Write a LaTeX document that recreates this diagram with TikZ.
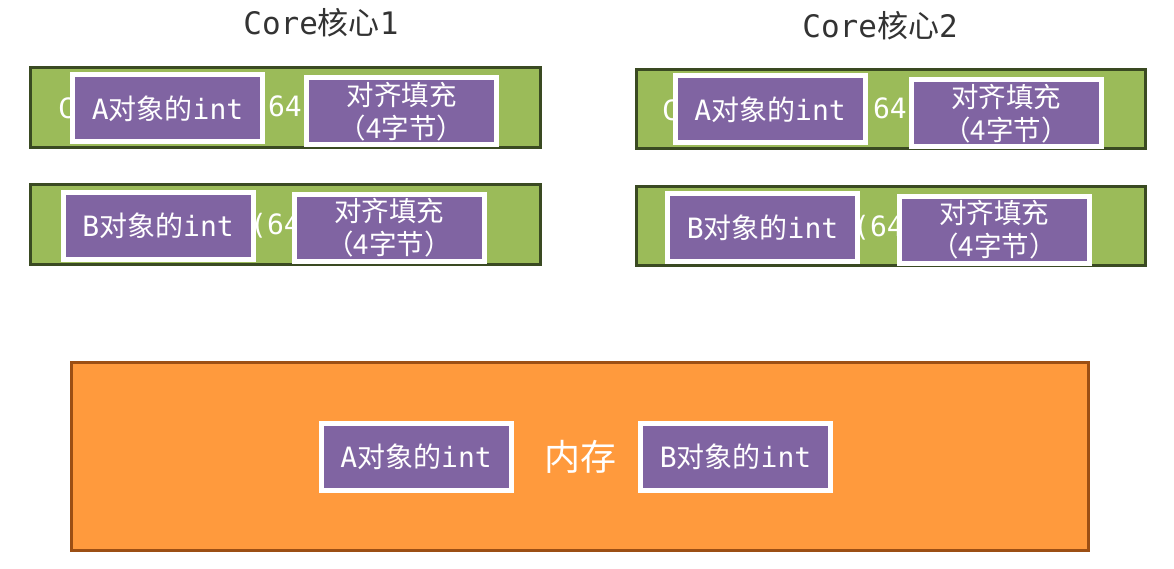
\documentclass[tikz,border=0pt]{standalone}
\usepackage{fontspec}
\setmainfont{Noto Sans CJK SC}
\setmonofont{DejaVu Sans Mono}
\usetikzlibrary{shadows}
\definecolor{barGreen}{HTML}{9BBB59}
\definecolor{barEdge}{HTML}{3A4A22}
\definecolor{memOrange}{HTML}{FF9A3D}
\definecolor{memEdge}{HTML}{9C4F14}
\definecolor{boxPurple}{HTML}{8064A2}
\definecolor{titleGrey}{HTML}{333333}
\tikzset{
  bar/.style={draw=barEdge, fill=barGreen, line width=3pt},
  mem/.style={draw=memEdge, fill=memOrange, line width=3pt},
  pbox/.style={draw=white, fill=boxPurple, line width=5pt, minimum width=190pt, minimum height=67pt,
    inner sep=0pt, text=white, font=\fontsize{28}{32}\selectfont, align=center,
    drop shadow={shadow xshift=1.5pt, shadow yshift=-2.5pt, opacity=0.3, fill=black}},
  ptwo/.style={pbox, font=\fontsize{27.5}{33}\selectfont},
  hidden/.style={text=white, font=\ttfamily\fontsize{28}{32}\selectfont, inner sep=0pt, anchor=west},
  title/.style={text=titleGrey, font=\fontsize{31}{34}\selectfont}
}
\newcommand{\lab}[1]{{\ttfamily #1}}
\begin{document}
\begin{tikzpicture}[x=1pt,y=-1pt]
\useasboundingbox (0,0) rectangle (1174,569);
% titles
\node[title] (t1) at (321,23) {\lab{Core}核心\lab{1}};
\node[title] (t2) at (880,26) {\lab{Core}核心\lab{2}};
% green bars
\draw[bar] (30,68) rectangle (540,148);
\draw[bar] (30,185) rectangle (540,264);
\draw[bar] (636,70) rectangle (1145,149);
\draw[bar] (636,187) rectangle (1145,265);
% partly covered white text
\node[hidden] (h1a) at (58,108) {C};
\node[hidden] (h1b) at (251,108) {(64};
\node[hidden] (h2a) at (64,226) {C};
\node[hidden] (h2b) at (250,226) {(64};
\node[hidden] (h3a) at (662,110) {C};
\node[hidden] (h3b) at (856,110) {(64};
\node[hidden] (h4a) at (668,228) {C};
\node[hidden] (h4b) at (853,228) {(64};
% purple boxes
\node[pbox] (a1) at (167.5,108.5) {\lab{A}对象的\lab{int}};
\node[ptwo] (p1) at (401.5,111.5) {对齐填充\\（4字节）};
\node[pbox] (b1) at (158,226) {\lab{B}对象的\lab{int}};
\node[ptwo] (p2) at (389,228) {对齐填充\\（4字节）};
\node[pbox] (a2) at (770,109.5) {\lab{A}对象的\lab{int}};
\node[ptwo] (p3) at (1006,113.5) {对齐填充\\（4字节）};
\node[pbox] (b2) at (762.5,227.5) {\lab{B}对象的\lab{int}};
\node[ptwo] (p4) at (994,230) {对齐填充\\（4字节）};
% memory
\draw[mem] (71,362) rectangle (1088,550);
\node[pbox] (ma) at (416,457) {\lab{A}对象的\lab{int}};
\node[text=white, font=\fontsize{36}{40}\selectfont] (memlabel) at (580,457) {内存};
\node[pbox] (mb) at (735.5,457) {\lab{B}对象的\lab{int}};
\end{tikzpicture}
\end{document}
